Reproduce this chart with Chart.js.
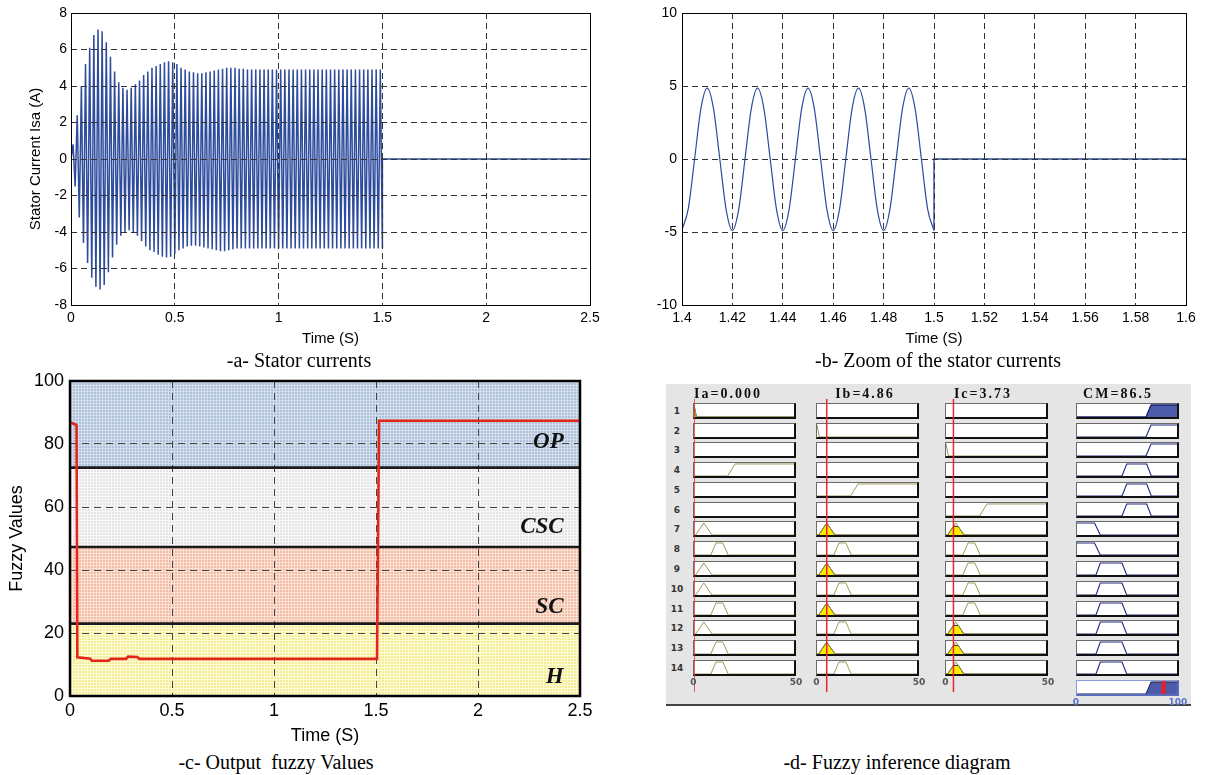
<!DOCTYPE html>
<html>
<head>
<meta charset="utf-8">
<script src="https://cdn.jsdelivr.net/npm/chart.js@4.4.1/dist/chart.umd.min.js"></script>
<style>
html,body{margin:0;padding:0;background:#fff;}
body{width:1205px;height:775px;position:relative;overflow:hidden;font-family:'Liberation Sans',Arial,sans-serif;}
canvas{display:block;}
.cap{position:absolute;width:400px;text-align:center;font-family:'Liberation Serif','Times New Roman',serif;font-size:20px;line-height:20px;white-space:pre;color:#000;}
#panelD{position:absolute;left:666px;top:384px;width:525px;height:320px;background:#e5e5e5;border-bottom:2px solid #444;}
.mfbox{position:absolute;box-sizing:border-box;width:103px;height:16px;background:#fff;border-top:1px solid #6a6a6a;border-left:1px solid #6a6a6a;border-right:2px solid #111;border-bottom:2px solid #111;}
.aggbox{position:absolute;box-sizing:border-box;width:103px;height:16px;background:#fff;border-top:1px solid #8a9ad8;border-left:1px solid #8a9ad8;border-right:2px solid #5a6cc0;border-bottom:2px solid #5a6cc0;}
.rownum{position:absolute;width:20px;text-align:center;font:bold 9px 'DejaVu Sans',sans-serif;line-height:10px;color:#333;}
.vtitle{position:absolute;width:120px;text-align:center;font:bold 14px 'Liberation Serif',serif;letter-spacing:2px;line-height:14px;color:#111;}
.axl{position:absolute;width:30px;text-align:center;font:bold 9px 'DejaVu Sans',sans-serif;line-height:10px;color:#555;}
.axo{color:#5a74c8;}
</style>
</head>
<body>
<div id="panelD"></div>
<script>
// ---------------- DATA ----------------
// Panel a: stator current envelope (peak value of each half cycle)
const halfPeriod = 0.01;
const posPeaks = [0.8, 2.4, 4.0, 5.2, 6.1, 6.8, 7.1, 7.0, 6.4, 5.6,
  4.8, 4.2, 3.9, 3.8, 3.9, 4.1, 4.3, 4.6, 4.8, 5.0,
  5.1, 5.2, 5.3, 5.35, 5.3, 5.2, 5.0, 4.9, 4.8, 4.75,
  4.7, 4.7, 4.75, 4.8, 4.85, 4.9, 4.95, 5.0, 5.0, 5.0,
  4.95, 4.95, 4.9, 4.9, 4.9, 4.9, 4.9, 4.9, 4.9, 4.9,
  4.9, 4.9, 4.9, 4.9, 4.9, 4.9, 4.9, 4.9, 4.9, 4.9,
  4.9, 4.9, 4.9, 4.9, 4.9, 4.9, 4.9, 4.9, 4.9, 4.9,
  4.9, 4.9, 4.9, 4.9, 4.9];
const negPeaks = [-1.5, -3.2, -4.6, -5.7, -6.5, -7.0, -7.15, -6.9, -6.2, -5.4,
  -4.7, -4.2, -4.0, -3.9, -4.0, -4.2, -4.5, -4.8, -5.0, -5.1,
  -5.25, -5.35, -5.4, -5.35, -5.2, -5.0, -4.9, -4.8, -4.75, -4.75,
  -4.8, -4.85, -4.9, -4.95, -5.0, -5.05, -5.05, -5.0, -4.95, -4.9,
  -4.9, -4.9, -4.9, -4.9, -4.9, -4.9, -4.9, -4.9, -4.9, -4.9,
  -4.9, -4.9, -4.9, -4.9, -4.9, -4.9, -4.9, -4.9, -4.9, -4.9,
  -4.9, -4.9, -4.9, -4.9, -4.9, -4.9, -4.9, -4.9, -4.9, -4.9,
  -4.9, -4.9, -4.9, -4.9, -4.9];
const tCut = 1.5, tEndA = 2.5;
const xTicksA = [0, 0.5, 1, 1.5, 2, 2.5];
const yTicksA = [-8, -6, -4, -2, 0, 2, 4, 6, 8];

// Panel b: zoom 1.4 - 1.6 s
const tB = [1.4, 1.4025, 1.405, 1.4075, 1.41, 1.4125, 1.415, 1.4175, 1.42, 1.4225, 1.425, 1.4275,
  1.43, 1.4325, 1.435, 1.4375, 1.44, 1.4425, 1.445, 1.4475, 1.45, 1.4525, 1.455, 1.4575,
  1.46, 1.4625, 1.465, 1.4675, 1.47, 1.4725, 1.475, 1.4775, 1.48, 1.4825, 1.485, 1.4875,
  1.49, 1.4925, 1.495, 1.4975, 1.5];
const iB = [-4.85, -3.4, 0, 3.45, 4.85, 3.45, 0, -3.45,
  -4.9, -3.45, 0, 3.45, 4.85, 3.45, 0, -3.45,
  -4.9, -3.45, 0, 3.45, 4.85, 3.45, 0, -3.45,
  -4.9, -3.45, 0, 3.45, 4.85, 3.45, 0, -3.45,
  -4.9, -3.45, 0, 3.45, 4.85, 3.45, 0, -3.45,
  -4.9];
const tAfterB = [1.5, 1.5, 1.6];
const iAfterB = [-4.9, 0, 0];
const xTicksB = [1.4, 1.42, 1.44, 1.46, 1.48, 1.5, 1.52, 1.54, 1.56, 1.58, 1.6];
const yTicksB = [-10, -5, 0, 5, 10];

// Panel c: output fuzzy values
const tC = [0, 0.025, 0.032, 0.036, 0.1, 0.107, 0.19, 0.2, 0.275, 0.285, 0.33, 0.34, 1.505, 1.515, 2.5];
const vC = [86.8, 86.3, 86.0, 12.3, 11.8, 11.2, 11.2, 11.8, 11.8, 12.5, 12.4, 11.8, 11.8, 87.4, 87.4];
const bandEdges = [0, 23, 47.3, 72.5, 100];
const bandNames = ['H', 'SC', 'CSC', 'OP'];
const xTicksC = [0, 0.5, 1, 1.5, 2, 2.5];
const yTicksC = [0, 20, 40, 60, 80, 100];

// Panel d: fuzzy inference diagram
const inputNames = ['Ia', 'Ib', 'Ic'];
const inputValues = [0.000, 4.86, 3.73];
const inputValueText = ['0.000', '4.86', '3.73'];
const outputName = 'CM';
const outputValue = 86.5;
const outputValueText = '86.5';
const inputRange = [0, 50];
const outputRange = [0, 100];
const inputMF = { Z: [-1, -1, 0, 1.2], T: [0.8, 4.9, 4.9, 9.0], P: [8.4, 11.0, 14.4, 17.1], HI: [16.8, 20.5, 50, 51] };
const outputMF = { H: [-1, 0, 17.5, 23.3], SC: [19, 23.3, 45, 49.7], CSC: [45, 49.7, 69.7, 74.3], OP: [69, 74, 100, 101] };
const rowLabels = ['1', '2', '3', '4', '5', '6', '7', '8', '9', '10', '11', '12', '13', '14'];
const rules = [
  ['Z', null, null, 'OP'],
  [null, 'Z', null, 'OP'],
  [null, null, 'Z', 'OP'],
  ['HI', null, null, 'CSC'],
  [null, 'HI', null, 'CSC'],
  [null, null, 'HI', 'CSC'],
  ['T', 'T', 'T', 'H'],
  ['P', 'P', 'P', 'H'],
  ['T', 'T', 'P', 'SC'],
  ['T', 'P', 'P', 'SC'],
  ['P', 'T', 'P', 'SC'],
  ['T', 'P', 'T', 'SC'],
  ['P', 'T', 'T', 'SC'],
  ['P', 'P', 'T', 'SC']
];

// ---------------- HELPERS ----------------
const SANS = "'Liberation Sans', Arial, sans-serif";
const SERIF = "'Liberation Serif', 'Times New Roman', serif";
Chart.defaults.color = '#000';

function canvasAt(l, t, w, h, parent) {
  const c = document.createElement('canvas');
  c.width = w; c.height = h;
  c.style.position = 'absolute'; c.style.left = l + 'px'; c.style.top = t + 'px';
  (parent || document.body).appendChild(c);
  return c;
}
function divAt(cls, l, t, txt) {
  const d = document.createElement('div');
  d.className = cls; d.style.left = l + 'px'; d.style.top = t + 'px';
  if (txt !== undefined) d.textContent = txt;
  document.body.appendChild(d);
  return d;
}
function linAxis(o) {
  return {
    type: 'linear', min: o.min, max: o.max, position: o.pos,
    afterBuildTicks: s => { s.ticks = o.ticks.map(v => ({ value: v })); },
    afterFit: s => {
      if (o.pos === 'bottom') s.height = o.size; else s.width = o.size;
      s.paddingLeft = 0; s.paddingRight = 0; s.paddingTop = 0; s.paddingBottom = 0;
    },
    grid: { color: o.gridColor, lineWidth: 1, drawTicks: false, z: o.gridZ },
    border: { display: false, dash: o.dash },
    ticks: { autoSkip: false, maxRotation: 0, minRotation: 0, padding: o.tickPad, color: '#000',
      font: { size: o.fontSize, family: SANS }, callback: v => String(v) },
    title: o.title ? { display: true, text: o.title, color: '#000', font: { size: o.titleSize, family: SANS }, padding: o.titlePad } : { display: false }
  };
}
function framePlugin(width) {
  return { id: 'frame' + String(width).replace('.', '_'), afterDraw(chart) {
    const a = chart.chartArea, ctx = chart.ctx;
    ctx.save(); ctx.strokeStyle = '#000'; ctx.lineWidth = width;
    const off = (width === 1) ? 0.5 : 0;
    ctx.strokeRect(Math.round(a.left) + off, Math.round(a.top) + off, Math.round(a.right - a.left), Math.round(a.bottom - a.top));
    ctx.restore();
  } };
}
const baseOpts = { responsive: false, animation: false, events: [],
  plugins: { legend: { display: false }, tooltip: { enabled: false } },
  elements: { point: { radius: 0 }, line: { tension: 0 } } };

// ---------------- PANEL A ----------------
const seriesA = [{ x: 0, y: 0 }];
for (let i = 0; i < posPeaks.length; i++) {
  seriesA.push({ x: halfPeriod * (2 * i + 1), y: posPeaks[i] });
  seriesA.push({ x: halfPeriod * (2 * i + 2), y: negPeaks[i] });
}
seriesA.push({ x: tCut, y: 0 }, { x: tEndA, y: 0 });

new Chart(canvasAt(0, 0, 600, 350), {
  type: 'line',
  data: { datasets: [{ data: seriesA, borderColor: '#2e4c9e', borderWidth: 1.5, fill: false }] },
  options: Object.assign({}, baseOpts, {
    layout: { padding: { left: 0, top: 13, right: 10, bottom: 0 } },
    scales: {
      x: linAxis({ min: 0, max: 2.5, pos: 'bottom', ticks: xTicksA, size: 45, gridColor: '#333', gridZ: 1, dash: [6, 4],
        tickPad: 5, fontSize: 14, title: 'Time (S)', titleSize: 15, titlePad: { top: 0, bottom: 2 } }),
      y: linAxis({ min: -8, max: 8, pos: 'left', ticks: yTicksA, size: 71, gridColor: '#333', gridZ: 1, dash: [6, 4],
        tickPad: 4, fontSize: 14, title: 'Stator Current Isa (A)', titleSize: 15, titlePad: { top: 27, bottom: 0 } })
    }
  }),
  plugins: [framePlugin(1)]
});

// ---------------- PANEL B ----------------
new Chart(canvasAt(600, 0, 605, 350), {
  type: 'line',
  data: { datasets: [
    { data: tB.map((t, i) => ({ x: t, y: iB[i] })), borderColor: '#2e4c9e', borderWidth: 1.2, cubicInterpolationMode: 'monotone', fill: false },
    { data: tAfterB.map((t, i) => ({ x: t, y: iAfterB[i] })), borderColor: '#2e4c9e', borderWidth: 1.4, fill: false }
  ] },
  options: Object.assign({}, baseOpts, {
    layout: { padding: { left: 0, top: 13, right: 19, bottom: 0 } },
    scales: {
      x: linAxis({ min: 1.4, max: 1.6, pos: 'bottom', ticks: xTicksB, size: 45, gridColor: '#333', gridZ: 1, dash: [6, 4],
        tickPad: 5, fontSize: 14, title: 'Time (S)', titleSize: 15, titlePad: { top: 0, bottom: 2 } }),
      y: linAxis({ min: -10, max: 10, pos: 'left', ticks: yTicksB, size: 82, gridColor: '#333', gridZ: 1, dash: [6, 4],
        tickPad: 5, fontSize: 14 })
    }
  }),
  plugins: [framePlugin(1)]
});

// ---------------- PANEL C ----------------
function makePattern(base, light) {
  const c = document.createElement('canvas'); c.width = 3; c.height = 3;
  const g = c.getContext('2d');
  g.fillStyle = light; g.fillRect(0, 0, 3, 3);
  g.fillStyle = base; g.fillRect(1, 1, 2, 2);
  return g.createPattern(c, 'repeat');
}
const bandStyle = {
  H: makePattern('#f5ec96', '#fdfbd6'),
  SC: makePattern('#f2bca6', '#fbe0d4'),
  CSC: makePattern('#e4e4e4', '#f8f8f8'),
  OP: makePattern('#afc1d8', '#d2deeb')
};
const dsC = [{ data: tC.map((t, i) => ({ x: t, y: vC[i] })), borderColor: '#e2261b', borderWidth: 2.6, fill: false }];
for (let k = 1; k < bandEdges.length - 1; k++) {
  dsC.push({ data: [{ x: 0, y: bandEdges[k] }, { x: 2.5, y: bandEdges[k] }], borderColor: '#1a1a1a', borderWidth: 2.7, fill: false });
}
for (let k = bandNames.length - 1; k >= 0; k--) {
  dsC.push({ data: [{ x: 0, y: bandEdges[k + 1] }, { x: 2.5, y: bandEdges[k + 1] }], borderWidth: 0, borderColor: 'rgba(0,0,0,0)',
    backgroundColor: bandStyle[bandNames[k]], fill: { value: bandEdges[k] } });
}
const bandLabelPos = { x: 2.42, y: [6.1, 28.3, 53.7, 80.6] };
const bandLabelPlugin = { id: 'bandLabels', afterDatasetsDraw(chart) {
  const ctx = chart.ctx, x = chart.scales.x, y = chart.scales.y;
  ctx.save(); ctx.font = 'italic bold 23px ' + SERIF; ctx.fillStyle = '#111';
  ctx.textAlign = 'right'; ctx.textBaseline = 'middle';
  bandNames.forEach((n, i) => ctx.fillText(n, x.getPixelForValue(bandLabelPos.x), y.getPixelForValue(bandLabelPos.y[i])));
  ctx.restore();
} };
const optsC = Object.assign({}, baseOpts, {
  layout: { padding: { left: 0, top: 11, right: 20, bottom: 0 } },
  scales: {
    x: linAxis({ min: 0, max: 2.5, pos: 'bottom', ticks: xTicksC, size: 55, gridColor: '#444', gridZ: -1, dash: [7, 5],
      tickPad: 4, fontSize: 18, title: 'Time (S)', titleSize: 18, titlePad: { top: 0, bottom: 4 } }),
    y: linAxis({ min: 0, max: 100, pos: 'left', ticks: yTicksC, size: 70, gridColor: '#444', gridZ: -1, dash: [7, 5],
      tickPad: 6, fontSize: 18, title: 'Fuzzy Values', titleSize: 18, titlePad: { top: 6, bottom: 0 } })
  }
});
optsC.plugins = Object.assign({}, baseOpts.plugins, { filler: { drawTime: 'beforeDraw', propagate: false } });
new Chart(canvasAt(0, 370, 600, 381), {
  type: 'line', data: { datasets: dsC }, options: optsC, plugins: [bandLabelPlugin, framePlugin(2.5)]
});

// ---------------- CAPTIONS ----------------
divAt('cap', 99, 350, '-a- Stator currents');
divAt('cap', 738, 350, '-b- Zoom of the stator currents');
divAt('cap', 76, 752, '-c- Output  fuzzy Values');
divAt('cap', 697, 752, '-d- Fuzzy inference diagram');

// ---------------- PANEL D ----------------
function mu(p, x) {
  const a = p[0], b = p[1], c = p[2], d = p[3];
  if (x < a || x > d) return 0;
  if (x >= b && x <= c) return 1;
  if (x < b) return (x - a) / (b - a);
  return (d - x) / (d - c);
}
function mfPoints(p, lo, hi) {
  return [lo, p[0], p[1], p[2], p[3], hi].filter(v => v >= lo && v <= hi).sort((m, n) => m - n)
    .map(v => ({ x: v, y: mu(p, v) }));
}
function clipPoints(p, deg, lo, hi) {
  return [lo, p[0], p[0] + deg * (p[1] - p[0]), p[3] - deg * (p[3] - p[2]), p[3], hi]
    .filter(v => v >= lo && v <= hi).sort((m, n) => m - n)
    .map(v => ({ x: v, y: Math.min(mu(p, v), deg) }));
}
function tinyChart(canvas, datasets, xmax, ymax, padX) {
  return new Chart(canvas, {
    type: 'line', data: { datasets },
    options: Object.assign({}, baseOpts, {
      layout: { padding: { left: padX || 0, right: padX || 0, top: 0, bottom: 0 } },
      scales: { x: { type: 'linear', min: 0, max: xmax, display: false }, y: { min: 0, max: ymax, display: false } }
    })
  });
}
const colLeft = [693, 816, 945, 1076];
const boxW = 103, boxH = 16;
function rowTop(i) { return Math.round(402.8 + 19.77 * i); }
const YMAX = 1.08;
const ruleStrength = rules.map(r => Math.min.apply(null, [0, 1, 2].filter(c => r[c]).map(c => mu(inputMF[r[c]], inputValues[c]))));

function boxCanvas(cls, l, t) {
  const box = document.createElement('div');
  box.className = cls; box.style.left = l + 'px'; box.style.top = t + 'px';
  document.body.appendChild(box);
  const c = document.createElement('canvas'); c.width = boxW - 3; c.height = boxH - 3;
  box.appendChild(c);
  return c;
}

rules.forEach((r, i) => {
  const top = rowTop(i);
  divAt('rownum', 667, top + 3, rowLabels[i]);
  for (let c = 0; c < 3; c++) {
    const cv = boxCanvas('mfbox', colLeft[c], top);
    if (!r[c]) continue;
    const p = inputMF[r[c]];
    const ds = [{ data: mfPoints(p, inputRange[0], inputRange[1]), borderColor: '#9e995a', borderWidth: 1, fill: false }];
    const deg = mu(p, inputValues[c]);
    if (deg > 0) ds.push({ data: clipPoints(p, deg, inputRange[0], inputRange[1]), borderColor: '#2a2a10', borderWidth: 1,
      backgroundColor: '#ffe800', fill: 'origin' });
    tinyChart(cv, ds, inputRange[1], YMAX);
  }
  const cvo = boxCanvas('mfbox', colLeft[3], top);
  const po = outputMF[r[3]];
  const dso = [{ data: mfPoints(po, outputRange[0], outputRange[1]), borderColor: '#1f2a7c', borderWidth: 1.1, fill: false }];
  if (ruleStrength[i] > 0) dso.push({ data: clipPoints(po, ruleStrength[i], outputRange[0], outputRange[1]), borderColor: '#1a1a50',
    borderWidth: 1, backgroundColor: '#4d5caa', fill: 'origin' });
  tinyChart(cvo, dso, outputRange[1], YMAX);
});

// aggregated output
const aggCv = boxCanvas('aggbox', colLeft[3], 680);
const aggDs = [{ data: [{ x: outputValue, y: 0 }, { x: outputValue, y: YMAX }], borderColor: '#ee1c24', borderWidth: 4, fill: false }];
rules.forEach((r, i) => {
  if (ruleStrength[i] > 0) aggDs.push({ data: clipPoints(outputMF[r[3]], ruleStrength[i], outputRange[0], outputRange[1]),
    borderColor: '#1a1a40', borderWidth: 1, backgroundColor: '#4d5caa', fill: 'origin' });
});
tinyChart(aggCv, aggDs, outputRange[1], YMAX);

// input value lines
for (let c = 0; c < 3; c++) {
  const cv = canvasAt(colLeft[c] + 1 - 4, 399, 108, 293);
  tinyChart(cv, [{ data: [{ x: inputValues[c], y: 0 }, { x: inputValues[c], y: 1 }], borderColor: '#e8262b', borderWidth: 1.5, fill: false }],
    inputRange[1], 1, 4);
}

// titles and axis labels
const titleCenters = [728, 865, 983, 1118];
for (let c = 0; c < 3; c++) {
  divAt('vtitle', titleCenters[c] - 60, 387, inputNames[c] + '=' + inputValueText[c]);
  divAt('axl', colLeft[c] + 0.5 - 15, 677, String(inputRange[0]));
  divAt('axl', colLeft[c] + boxW - 15, 677, String(inputRange[1]));
}
divAt('vtitle', titleCenters[3] - 60, 387, outputName + '=' + outputValueText);
divAt('axl axo', colLeft[3] - 15, 697, String(outputRange[0]));
divAt('axl axo', colLeft[3] + boxW - 1 - 15, 697, String(outputRange[1]));
</script>
</body>
</html>
